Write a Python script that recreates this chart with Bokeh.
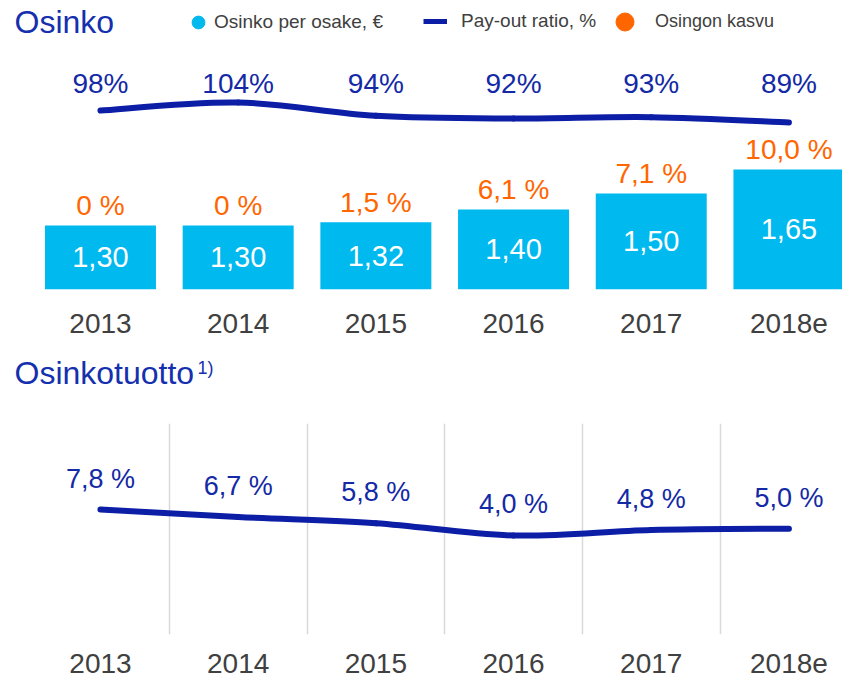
from bokeh.plotting import figure
from bokeh.models import (ColumnDataSource, Range1d, FixedTicker, Label, Legend, LegendItem)
from bokeh.layouts import column
from bokeh.core.properties import value
from bokeh.embed import file_html
from bokeh.resources import INLINE

# ---------------- data ----------------
years = ["2013", "2014", "2015", "2016", "2017", "2018e"]
dividend = [1.30, 1.30, 1.32, 1.40, 1.50, 1.65]          # Osinko per osake, EUR
growth = [0.0, 0.0, 1.5, 6.1, 7.1, 10.0]                 # Osingon kasvu, %
payout = [98, 104, 94, 92, 93, 89]                       # Pay-out ratio, %
yield_pct = [7.8, 6.7, 5.8, 4.0, 4.8, 5.0]               # Osinkotuotto, %

# ---------------- style ----------------
FONT = "Liberation Sans"
TITLE_BLUE = "#1530AE"
LABEL_BLUE = "#1329A5"
LINE_BLUE = "#0C1EA5"
CYAN = "#00B9EF"
ORANGE = "#FF6600"
GRAY = "#404040"
GRID = "#D9D9D9"

W = 842
H1, HT, H2 = 350, 73, 258
X_START, X_END = -0.726, 5.389
NAN = float("nan")


def fi(v, dec):
    return f"{v:.{dec}f}".replace(".", ",")


idx = list(range(len(years)))
div_labels = [fi(v, 2) for v in dividend]
growth_labels = ["0 %" if g == 0 else fi(g, 1) + " %" for g in growth]
payout_labels = [f"{v}%" for v in payout]
yield_labels = [fi(v, 1) + " %" for v in yield_pct]


def smooth(xs, ys):
    n = len(xs)
    d = dict(x0=[], y0=[], x1=[], y1=[], cx0=[], cy0=[], cx1=[], cy1=[])
    for i in range(n - 1):
        a = i - 1 if i > 0 else i
        b = i + 2 if i + 2 < n else i + 1
        d["x0"].append(xs[i]); d["y0"].append(ys[i])
        d["x1"].append(xs[i + 1]); d["y1"].append(ys[i + 1])
        d["cx0"].append(xs[i] + (xs[i + 1] - xs[a]) / 6)
        d["cy0"].append(ys[i] + (ys[i + 1] - ys[a]) / 6)
        d["cx1"].append(xs[i + 1] - (xs[b] - xs[i]) / 6)
        d["cy1"].append(ys[i + 1] - (ys[b] - ys[i]) / 6)
    return ColumnDataSource(d)


def base_fig(height, yr, top, bottom, standoff):
    p = figure(width=W, height=height, x_range=Range1d(X_START, X_END), y_range=yr,
               output_backend="svg", toolbar_location=None, y_axis_location=None,
               min_border_left=0, min_border_right=0, min_border_top=top,
               min_border_bottom=bottom, outline_line_color=None,
               background_fill_color="white", border_fill_color="white")
    p.ygrid.visible = False
    ax = p.xaxis[0]
    ax.ticker = FixedTicker(ticks=idx)
    ax.major_label_overrides = {i: y for i, y in enumerate(years)}
    ax.axis_line_color = None
    ax.major_tick_line_color = None
    ax.minor_tick_line_color = None
    ax.major_tick_out = 0
    ax.major_tick_in = 0
    ax.minor_tick_out = 0
    ax.major_label_standoff = standoff
    ax.major_label_text_font = FONT
    ax.major_label_text_font_size = "28px"
    ax.major_label_text_color = GRAY
    return p


# ---------------- top: Osinko ----------------
BASE = 0.9
p1 = base_fig(H1, Range1d(BASE, 2.706), 0, 61, 24)
p1.xgrid.visible = False
p1.extra_y_ranges = {"payout": Range1d(-36.25, 180.5)}

src1 = ColumnDataSource(dict(
    x=idx, dps=dividend, mid=[(v + BASE) / 2 for v in dividend], dlab=div_labels,
    glab=growth_labels, payout=payout, plab=payout_labels,
    ply=[max(payout) + 14] * len(payout)))

p1.vbar(x="x", top="dps", bottom=0, width=0.806, source=src1,
        fill_color=CYAN, line_color=None)
p1.text(x="x", y="mid", text="dlab", source=src1, text_font=value(FONT),
        text_font_size="29px", text_color="white", text_align="center",
        text_baseline="middle")
p1.text(x="x", y="dps", text="glab", source=src1, text_font=value(FONT),
        text_font_size="28px", text_color=ORANGE, text_align="center",
        text_baseline="middle", y_offset=-20)
p1.bezier(x0="x0", y0="y0", x1="x1", y1="y1", cx0="cx0", cy0="cy0", cx1="cx1", cy1="cy1",
          source=smooth(idx, payout), y_range_name="payout",
          line_color=LINE_BLUE, line_width=6, line_cap="round")
p1.text(x="x", y="ply", text="plab", source=src1, y_range_name="payout",
        text_font=value(FONT), text_font_size="28px", text_color=LABEL_BLUE,
        text_align="center", text_baseline="middle")

p1.add_layout(Label(x=14, y=268, x_units="screen", y_units="screen", text="Osinko",
                    text_font=FONT, text_font_size="32px", text_color=TITLE_BLUE,
                    text_baseline="middle"))

# legend (renderers with no visible point, used only for the legend glyphs)
r_l1 = p1.scatter(x=[NAN], y=[NAN], marker="circle", size=13,
                  fill_color=CYAN, line_color=CYAN)
r_l2 = p1.line(x=[NAN, NAN], y=[NAN, NAN], line_color=LINE_BLUE, line_width=5)
r_l3 = p1.scatter(x=[NAN], y=[NAN], marker="circle", size=18,
                  fill_color=ORANGE, line_color=ORANGE)


def add_legend(label, r, loc, gw, gh, standoff, fs):
    lg = Legend(items=[LegendItem(label=label, renderers=[r])], location=loc,
                orientation="horizontal", glyph_width=gw, glyph_height=gh,
                label_standoff=standoff, padding=0, margin=0, spacing=0,
                border_line_color=None, background_fill_alpha=0,
                label_text_font=FONT, label_text_font_size=fs, label_text_color=GRAY)
    p1.add_layout(lg)


add_legend("Osinko per osake, €", r_l1, (182, 251), 32, 32, 0, "19px")
add_legend("Pay-out ratio, %", r_l2, (423, 257), 24, 20, 14, "19px")
add_legend("Osingon kasvu", r_l3, (602, 245), 45, 45, 8, "18px")

# ---------------- title strip: Osinkotuotto ----------------
pt = figure(width=W, height=HT, x_range=Range1d(0, 1), y_range=Range1d(0, 1),
            output_backend="svg", toolbar_location=None,
            x_axis_location=None, y_axis_location=None,
            min_border_left=0, min_border_right=0, min_border_top=0, min_border_bottom=0,
            outline_line_color=None, background_fill_color="white",
            border_fill_color="white")
pt.xgrid.visible = False
pt.ygrid.visible = False
pt.add_layout(Label(x=14, y=51, x_units="screen", y_units="screen", text="Osinkotuotto",
                    text_font=FONT, text_font_size="32px", text_color=TITLE_BLUE,
                    text_baseline="middle"))
pt.add_layout(Label(x=197, y=56, x_units="screen", y_units="screen", text="1)",
                    text_font=FONT, text_font_size="18px", text_color=TITLE_BLUE,
                    text_baseline="middle"))

# ---------------- bottom: yield ----------------
p2 = base_fig(H2, Range1d(-10.47, 20.37), 0, 47, 19)
p2.xgrid.ticker = FixedTicker(ticks=[i + 0.5 for i in idx[:-1]])
p2.xgrid.grid_line_color = GRID
p2.xgrid.grid_line_width = 1.5

src2 = ColumnDataSource(dict(x=idx, yv=yield_pct, ylab=yield_labels))
p2.bezier(x0="x0", y0="y0", x1="x1", y1="y1", cx0="cx0", cy0="cy0", cx1="cx1", cy1="cy1",
          source=smooth(idx, yield_pct), line_color=LINE_BLUE, line_width=6, line_cap="round")
p2.text(x="x", y="yv", text="ylab", source=src2, text_font=value(FONT),
        text_font_size="27px", text_color=LABEL_BLUE, text_align="center",
        text_baseline="middle", y_offset=-31)

layout = column(p1, pt, p2, spacing=0)
open("out.html", "w").write(file_html(layout, INLINE))
